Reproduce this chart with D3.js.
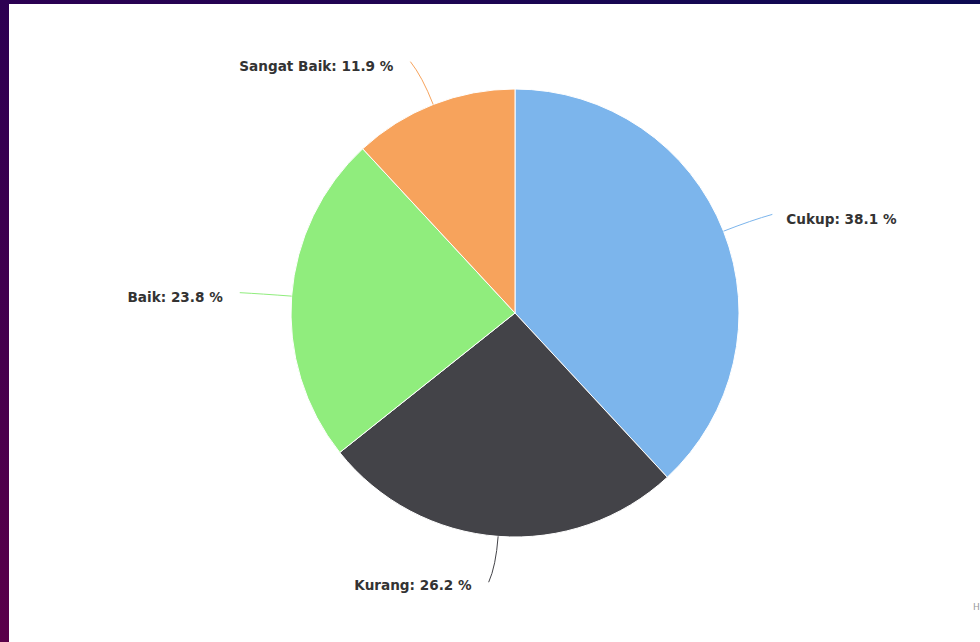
<!DOCTYPE html>
<html>
<head>
<meta charset="utf-8">
<script src="https://cdn.jsdelivr.net/npm/d3@7"></script>
<style>
  html, body { margin: 0; padding: 0; background: #fff; }
  svg { display: block; }
  .lbl { font-family: "DejaVu Sans", sans-serif; font-size: 13.6px; font-weight: bold; fill: #333; }
</style>
</head>
<body>
<svg id="chart"></svg>
<script>
// data: shares of each rating (percent)
var categories = ["Cukup", "Kurang", "Baik", "Sangat Baik"]
var values = [38.1, 26.2, 23.8, 11.9]
var colours = ["#7cb5ec", "#434348", "#90ed7d", "#f7a35c"]

var screen = {width: 980, height: 642}
var pieCentre = {x: 515, y: 313}
var radius = 224

var svg = d3.select("#chart")
    .attr("width", screen.width)
    .attr("height", screen.height)

// frame strips (top and left edge of the screenshot)
var defs = svg.append("defs")
var gTop = defs.append("linearGradient").attr("id", "gtop")
gTop.append("stop").attr("offset", "0%").attr("stop-color", "#2c0052")
gTop.append("stop").attr("offset", "100%").attr("stop-color", "#0c0a52")
var gLeft = defs.append("linearGradient").attr("id", "gleft")
    .attr("x1", 0).attr("y1", 0).attr("x2", 0).attr("y2", 1)
gLeft.append("stop").attr("offset", "0%").attr("stop-color", "#2c0052")
gLeft.append("stop").attr("offset", "100%").attr("stop-color", "#5a0049")

svg.append("rect").attr("x", 0).attr("y", 0).attr("width", screen.width).attr("height", 4).attr("fill", "url(#gtop)")
svg.append("rect").attr("x", 0).attr("y", 0).attr("width", 9).attr("height", screen.height).attr("fill", "url(#gleft)")

var pie = d3.pie().sort(null).value(function(d){ return d })
var arcs = pie(values)

var arc = d3.arc().innerRadius(0).outerRadius(radius)

var g = svg.append("g")
    .attr("transform", "translate(" + pieCentre.x + "," + pieCentre.y + ")")

g.selectAll("path.slice")
    .data(arcs)
    .enter()
    .append("path")
    .classed("slice", true)
    .attr("d", arc)
    .attr("fill", function(d, i){ return colours[i] })
    .attr("stroke", "#fff")
    .attr("stroke-width", 1)
    .attr("stroke-linejoin", "round")

var polar = function(a, r)
{
    return [r * Math.sin(a), -r * Math.cos(a)]
}

// connectors + labels
var labels = g.selectAll("g.dl")
    .data(arcs)
    .enter()
    .append("g")
    .classed("dl", true)

labels.each(function(d, i)
{
    var a = (d.startAngle + d.endAngle) / 2
    var side = Math.sin(a) >= 0 ? 1 : -1
    var p0 = polar(a, radius)
    var p1 = polar(a, radius + 30)
    var p2 = polar(a, radius + 46)
    p2[0] += side * 6
    var sel = d3.select(this)
    sel.append("path")
        .attr("d", "M" + p0[0] + "," + p0[1] + "Q" + p1[0] + "," + p1[1] + " " + p2[0] + "," + p2[1])
        .attr("fill", "none")
        .attr("stroke", colours[i])
        .attr("stroke-width", 1)
    sel.append("text")
        .classed("lbl", true)
        .attr("x", p2[0] + side * (side > 0 ? 14 : 17))
        .attr("y", p2[1] + (p2[1] > 0 ? 3 : 5))
        .attr("dy", "0.35em")
        .attr("text-anchor", side > 0 ? "start" : "end")
        .text(categories[i] + ": " + values[i].toFixed(1) + " %")
})

// credit text, cut off at the right edge like in the screenshot
svg.append("text")
    .attr("x", 973)
    .attr("y", 610)
    .attr("font-family", "DejaVu Sans, sans-serif")
    .attr("font-size", 9)
    .attr("fill", "#999")
    .text("Highcharts.com")
</script>
</body>
</html>
